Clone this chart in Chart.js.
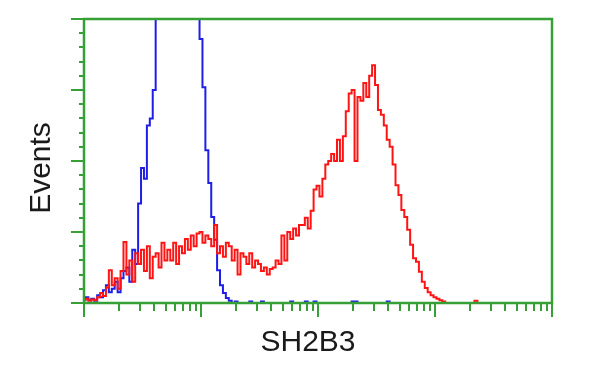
<!DOCTYPE html>
<html>
<head>
<meta charset="utf-8">
<script src="https://cdn.jsdelivr.net/npm/chart.js@4/dist/chart.umd.min.js"></script>
<style>
  html, body { margin: 0; padding: 0; background: #fff; }
  #wrap { width: 600px; height: 375px; position: relative; }
</style>
</head>
<body>
<div id="wrap"><canvas id="myChart" width="600" height="375"></canvas></div>
<script>
'use strict';

// Histogram counts per channel (40 channels per decade, 4 decades)
var redCounts = [
  4, 6, 3, 5, 4, 8, 14, 10, 22, 46,
  25, 35, 20, 45, 86, 40, 60, 30, 70, 55,
  75, 45, 80, 35, 65, 70, 50, 85, 60, 75,
  60, 85, 55, 80, 70, 90, 75, 95, 80, 98,
  100, 85, 95, 90, 80, 110, 70, 80, 65, 85,
  80, 60, 75, 40, 70, 65, 55, 70, 50, 60,
  55, 45, 50, 40, 48, 50, 60, 55, 95, 60,
  100, 90, 105, 95, 110, 110, 120, 105, 130, 160,
  165, 150, 175, 195, 200, 210, 200, 230, 200, 235,
  270, 295, 300, 200, 290, 285, 310, 290, 320, 335,
  307, 272, 265, 250, 230, 220, 195, 166, 152, 131,
  121, 103, 82, 63, 58, 44, 30, 21, 15, 11,
  8, 6, 4, 2, 0, 0, 0, 0, 0, 0,
  0, 0, 0, 0, 3, 0
];

var blueCounts = [
  5, 8, 4, 6, 3, 11, 8, 18, 25, 15,
  20, 30, 15, 35, 45, 50, 30, 75, 55, 140,
  190, 175, 250, 260, 300, 520, 620, 700, 760, 800,
  830, 850, 840, 820, 780, 720, 650, 570, 500, 430,
  372, 304, 215, 169, 121, 89, 46, 25, 14, 7,
  3, 0, 2, 0, 0, 0, 0, 2, 0, 0,
  0, 2, 0, 0, 0, 0, 0, 0, 0, 0,
  0, 2, 0, 0, 0, 0, 2, 0, 0, 2,
  0, 0, 0, 0, 0, 0, 0, 0, 0, 0,
  0, 0, 2, 2, 0, 0, 0, 0, 0, 0,
  0, 0, 0, 0, 2, 0
];

// Axis ticks
var channelsPerDecade = 40;
var decades = [0, 1, 2, 3, 4];
var minorSteps = [2, 3, 4, 5, 6, 7, 8, 9];
var yMajorTicks = [0, 100, 200, 300, 400];
var yMinorStep = 20;

var axisColor = '#36a036';

function toPoints(arr) {
  return arr.map(function(v, i) {
    return { x: i, y: v };
  });
}

var framePlugin = {
  id: 'frame',
  afterDatasetsDraw: function(chart) {
    var ctx = chart.ctx;
    var area = chart.chartArea;
    var xs = chart.scales.x;
    var ys = chart.scales.y;

    ctx.save();
    ctx.strokeStyle = axisColor;
    ctx.lineWidth = 2;

    // y ticks
    for (var v = 0; v <= ys.max; v += yMinorStep) {
      var py = Math.round(ys.getPixelForValue(v));
      var len = yMajorTicks.indexOf(v) >= 0 ? 13 : 5;
      ctx.beginPath();
      ctx.moveTo(area.left - len, py);
      ctx.lineTo(area.left, py);
      ctx.stroke();
    }

    // x ticks (log decades)
    decades.forEach(function(d) {
      var px = Math.round(xs.getPixelForValue(d * channelsPerDecade));
      ctx.beginPath();
      ctx.moveTo(px, area.bottom);
      ctx.lineTo(px, area.bottom + 14);
      ctx.stroke();
      if (d < decades[decades.length - 1]) {
        minorSteps.forEach(function(m) {
          var mx = Math.round(xs.getPixelForValue((d + Math.log10(m)) * channelsPerDecade));
          ctx.beginPath();
          ctx.moveTo(mx, area.bottom);
          ctx.lineTo(mx, area.bottom + 8);
          ctx.stroke();
        });
      }
    });

    // frame
    ctx.lineWidth = 2.5;
    ctx.strokeRect(area.left, area.top, area.right - area.left, area.bottom - area.top);

    // axis titles
    ctx.fillStyle = '#1a1a1a';
    ctx.font = '30px "Liberation Sans", Arial, sans-serif';
    ctx.textAlign = 'center';
    ctx.textBaseline = 'middle';
    ctx.fillText('SH2B3', 308, 343);

    ctx.translate(42, 168);
    ctx.rotate(-Math.PI / 2);
    ctx.fillText('Events', 0, 0);
    ctx.restore();
  }
};

var ctx = document.getElementById('myChart').getContext('2d');

var chart = new Chart(ctx, {
  type: 'line',
  data: {
    datasets: [
      {
        label: 'SH2B3',
        data: toPoints(redCounts),
        borderColor: '#ff1414',
        borderWidth: 2,
        stepped: 'middle',
        pointRadius: 0,
        fill: false
      },
      {
        label: 'Control',
        data: toPoints(blueCounts),
        borderColor: '#1e1ee6',
        borderWidth: 2,
        stepped: 'middle',
        pointRadius: 0,
        fill: false
      }
    ]
  },
  options: {
    responsive: false,
    animation: false,
    layout: {
      padding: { left: 84, top: 19, right: 48, bottom: 72 }
    },
    plugins: {
      legend: { display: false },
      tooltip: { enabled: false }
    },
    scales: {
      x: {
        type: 'linear',
        min: 0,
        max: decades[decades.length - 1] * channelsPerDecade,
        display: false
      },
      y: {
        type: 'linear',
        min: 0,
        max: 400,
        display: false
      }
    }
  },
  plugins: [framePlugin]
});
</script>
</body>
</html>
